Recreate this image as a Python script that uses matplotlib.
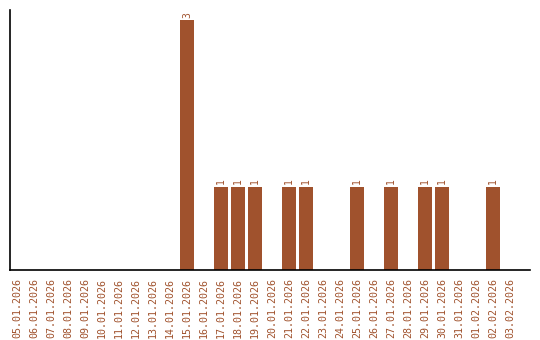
import matplotlib
matplotlib.use("Agg")
import matplotlib.pyplot as plt
import pandas as pd

dates = pd.date_range("2026-01-05", "2026-02-03", freq="D")
date_labels = [d.strftime("%d.%m.%Y") for d in dates]
counts_by_day = {
    "15.01.2026": 3,
    "17.01.2026": 1,
    "18.01.2026": 1,
    "19.01.2026": 1,
    "21.01.2026": 1,
    "22.01.2026": 1,
    "25.01.2026": 1,
    "27.01.2026": 1,
    "29.01.2026": 1,
    "30.01.2026": 1,
    "02.02.2026": 1,
}
counts = [counts_by_day.get(lbl, 0) for lbl in date_labels]

color = "#A0522D"
plt.rcParams["font.family"] = "DejaVu Sans Mono"

fig = plt.figure(figsize=(5.4, 3.4), dpi=100)
ax = fig.add_axes([10 / 540, 70 / 340, 520 / 540, 260 / 340])

x = list(range(len(date_labels)))
ax.bar(x, counts, width=0.82, color=color)
for xi, c in zip(x, counts):
    if c > 0:
        ax.text(xi, c + 0.03, str(c), rotation=90, ha="center", va="bottom",
                fontsize=7, color=color)

ax.set_xlim(-0.41, 30.18)
ax.set_ylim(0, 3.12)
ax.set_xticks(x)
ax.set_xticklabels(date_labels, rotation=90, fontsize=7.2, color=color)
ax.tick_params(axis="x", length=0, pad=6)
ax.set_yticks([])
for side in ("top", "right"):
    ax.spines[side].set_visible(False)
for side in ("left", "bottom"):
    ax.spines[side].set_linewidth(1.2)

fig.savefig("out.png", dpi=100)
